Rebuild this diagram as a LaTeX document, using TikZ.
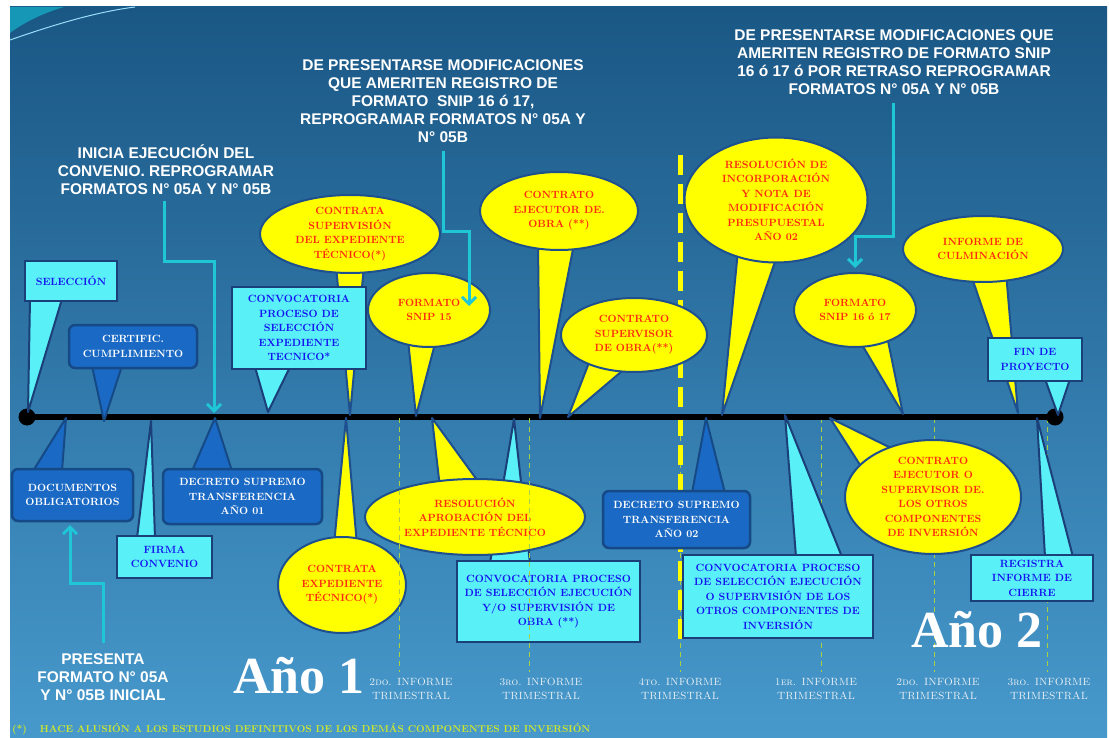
\documentclass[tikz,border=0pt]{standalone}
\usepackage{fontspec}
\newfontfamily\hdrfont{Liberation Sans}
\newfontfamily\anofont{Liberation Serif}
\usetikzlibrary{shapes.geometric,arrows.meta,calc}
\definecolor{bgtop}{HTML}{1A5785}
\definecolor{bgbot}{HTML}{4799CC}
\definecolor{cyanbox}{HTML}{5AF0F8}
\definecolor{navyedge}{HTML}{1B3F78}
\definecolor{darkbox}{HTML}{1A69C4}
\definecolor{darkedge}{HTML}{164A86}
\definecolor{yel}{HTML}{FFFF00}
\definecolor{yeledge}{HTML}{1E4F8F}
\definecolor{redtxt}{HTML}{FF2A10}
\definecolor{bluetxt}{HTML}{1414F0}
\definecolor{tealarr}{HTML}{1EC6D6}
\definecolor{gridline}{HTML}{A8D040}
\definecolor{foot}{HTML}{CCE630}
\definecolor{lbl}{HTML}{EEF2F6}
\definecolor{swoosh}{HTML}{1597B5}
\tikzset{
 cfont/.style={font=\fontsize{10.5}{14.5}\selectfont\bfseries, align=center},
 cybox/.style={cfont, rectangle, fill=cyanbox, draw=navyedge, line width=2.5pt, text=bluetxt, inner sep=2pt},
 cyptr/.style={fill=cyanbox, draw=navyedge, line width=2pt, line join=round},
 dkbox/.style={cfont, rectangle, rounded corners=6pt, fill=darkbox, draw=darkedge, line width=2.5pt, text=white, inner sep=2pt},
 dkptr/.style={fill=darkbox, draw=darkedge, line width=2pt, line join=round},
 yell/.style={cfont, ellipse, fill=yel, draw=yeledge, line width=2pt, text=redtxt, inner sep=0pt},
 yeptr/.style={fill=yel, draw=yeledge, line width=2pt, line join=round},
 hdr/.style={font=\hdrfont\bfseries\fontsize{15.5}{18}\selectfont, text=white, align=center, inner sep=0pt},
 tarrow/.style={draw=tealarr, line width=3pt, -{Straight Barb[length=7pt,width=14pt]}},
 gridl/.style={draw=gridline, line width=1pt, dash pattern=on 5pt off 4pt},
 ydash/.style={draw=yel, line width=5pt, dash pattern=on 20pt off 9pt},
 lblst/.style={font=\fontsize{10.5}{14}\selectfont\scshape, text=lbl, align=center, inner sep=0pt},
 anost/.style={font=\anofont\bfseries\fontsize{52}{52}\selectfont, text=white, inner sep=0pt, anchor=base west},
}
\begin{document}
\begin{tikzpicture}[x=1pt,y=-1pt]
\useasboundingbox (0,0) rectangle (1109,738);
\fill[white] (0,0) rectangle (1109,738);
\shade[top color=bgtop, bottom color=bgbot] (10,7) rectangle (1107,738);
\fill[swoosh] (10,7) -- (64,7) .. controls (40,14) and (22,24) .. (10,33) -- cycle;
\draw[white!60!cyan, line width=1pt] (10,40) .. controls (50,26) and (95,12) .. (135,7);

% grid lines (behind)
\draw[gridl] (680,418) -- (680,672);
\draw[gridl] (821,418) -- (821,672);
\draw[gridl] (934,418) -- (934,672);
\draw[gridl] (1047,418) -- (1047,672);
\draw[ydash] (680,155) -- (680,640);

% timeline
\coordinate (tl0) at (27,417);
\coordinate (tl1) at (1055,417);
\draw[line width=6.5pt] (tl0) -- (tl1);
\fill (tl0) circle (8.5);
\fill (tl1) circle (8.5);

% ---- above the timeline
\draw[cyptr] (30,299) -- (28,412) -- (62,299) -- cycle;
\node[cybox, minimum width=92pt, minimum height=40pt] (sel) at (71,281) {SELECCIÓN};

\draw[dkptr] (92,366) -- (104,421) -- (122,366) -- cycle;
\node[dkbox, minimum width=128pt, minimum height=43pt] (cert) at (133,346.5) {CERTIFIC.\\CUMPLIMIENTO};

\draw[yeptr] (336,266) -- (350,415) -- (364,266) -- cycle;
\node[yell, minimum width=180pt, minimum height=78pt] (csup) at (350,234) {CONTRATA\\SUPERVISIÓN\\DEL EXPEDIENTE\\TÉCNICO(*)};

\draw[cyptr] (255,367) -- (268,412) -- (290,367) -- cycle;
\node[cybox, minimum width=134pt, minimum height=82pt] (cexp) at (299,328) {CONVOCATORIA\\PROCESO DE\\SELECCIÓN\\EXPEDIENTE\\TECNICO*};

\draw[yeptr] (408,340) -- (416,416) -- (436,340) -- cycle;
\node[yell, minimum width=122pt, minimum height=74pt] (f15) at (429,310) {FORMATO\\SNIP 15};

\draw[yeptr] (538,244) -- (540,418) -- (574,244) -- cycle;
\node[yell, minimum width=158pt, minimum height=78pt] (cejo) at (559,211) {CONTRATO\\EJECUTOR DE.\\OBRA (**)};

\draw[yeptr] (590,360) -- (568,417) -- (628,366) -- cycle;
\node[yell, minimum width=146pt, minimum height=74pt] (csob) at (634,335) {CONTRATO\\SUPERVISOR\\DE OBRA(**)};

\draw[yeptr] (738,250) -- (722,415) -- (777,256) -- cycle;
\node[yell, minimum width=183pt, minimum height=125pt] (rinc) at (776,200) {RESOLUCIÓN DE\\INCORPORACIÓN\\Y NOTA DE\\MODIFICACIÓN\\PRESUPUESTAL\\AÑO 02};

\draw[yeptr] (858,338) -- (903,414) -- (887,336) -- cycle;
\node[yell, minimum width=122pt, minimum height=74pt] (f1617) at (855,310) {FORMATO\\SNIP 16 ó 17};

\draw[yeptr] (970,272) -- (1018,413) -- (1006,272) -- cycle;
\node[yell, minimum width=160pt, minimum height=66pt] (icul) at (983,249) {INFORME DE\\CULMINACIÓN};

\draw[cyptr] (1045,379) -- (1058,415) -- (1070,379) -- cycle;
\node[cybox, minimum width=94pt, minimum height=43pt] (fin) at (1035,359.5) {FIN DE\\PROYECTO};

% ---- below the timeline
\draw[dkptr] (33,471) -- (66,418) -- (62,471) -- cycle;
\node[dkbox, minimum width=121pt, minimum height=52pt] (docs) at (72.5,495) {DOCUMENTOS\\OBLIGATORIOS};

\draw[cyptr] (137,538) -- (151,421) -- (155,538) -- cycle;
\node[cybox, minimum width=95pt, minimum height=42pt] (firma) at (164.5,557) {FIRMA\\CONVENIO};

\draw[dkptr] (192,471) -- (215,418) -- (232,471) -- cycle;
\node[dkbox, minimum width=159pt, minimum height=55pt] (dec1) at (242.5,496.5) {DECRETO SUPREMO\\TRANSFERENCIA\\AÑO 01};

\draw[yeptr] (334,545) -- (346,418) -- (357,545) -- cycle;
\node[yell, minimum width=128pt, minimum height=96pt] (cexpt) at (342,585) {CONTRATA\\EXPEDIENTE\\TÉCNICO(*)};

\draw[cyptr] (490,563) -- (514,419) -- (530,563) -- cycle;
\node[cybox, minimum width=183pt, minimum height=81pt] (convobra) at (548.5,601.5) {CONVOCATORIA PROCESO\\DE SELECCIÓN EJECUCIÓN\\Y/O SUPERVISIÓN DE\\OBRA (**)};

\draw[yeptr] (440,488) -- (432,418) -- (480,484) -- cycle;
\node[yell, minimum width=220pt, minimum height=76pt] (raprob) at (475,517) {RESOLUCIÓN\\APROBACIÓN DEL\\EXPEDIENTE TÉCNICO};

\draw[dkptr] (692,493) -- (706,418) -- (725,493) -- cycle;
\node[dkbox, minimum width=147pt, minimum height=57pt] (dec2) at (676.5,519.5) {DECRETO SUPREMO\\TRANSFERENCIA\\AÑO 02};

\draw[cyptr] (796,557) -- (785,415) -- (842,557) -- cycle;
\node[cybox, minimum width=190pt, minimum height=83pt] (convotros) at (778,596.5) {CONVOCATORIA PROCESO\\DE SELECCIÓN EJECUCIÓN\\O SUPERVISIÓN DE LOS\\OTROS COMPONENTES DE\\INVERSIÓN};

\draw[yeptr] (862,468) -- (830,418) -- (895,450) -- cycle;
\node[yell, minimum width=176pt, minimum height=114pt] (ceos) at (933,497) {CONTRATO\\EJECUTOR O\\SUPERVISOR DE.\\LOS OTROS\\COMPONENTES\\DE INVERSIÓN};

\draw[cyptr] (1045,557) -- (1037,418) -- (1073,557) -- cycle;
\node[cybox, minimum width=122pt, minimum height=46pt] (reg) at (1032,578) {REGISTRA\\INFORME DE\\CIERRE};

% grid lines in front
\draw[gridl] (399,418) -- (399,672);
\draw[gridl] (529,418) -- (529,672);

% headers
\node[hdr] (hA) at (166,170) {INICIA EJECUCIÓN DEL\\CONVENIO. REPROGRAMAR\\FORMATOS N° 05A Y N° 05B};
\node[hdr] (hB) at (443,101) {DE PRESENTARSE MODIFICACIONES\\QUE AMERITEN REGISTRO DE\\FORMATO\ \ SNIP 16 ó 17,\\REPROGRAMAR FORMATOS N° 05A Y\\N° 05B};
\node[hdr] (hC) at (894,62) {DE PRESENTARSE MODIFICACIONES QUE\\AMERITEN REGISTRO DE FORMATO SNIP\\16 ó 17 ó POR RETRASO REPROGRAMAR\\FORMATOS N° 05A Y N° 05B};
\node[hdr] (hD) at (103,677) {PRESENTA\\FORMATO N° 05A\\Y N° 05B INICIAL};

% arrows
\coordinate (aT) at (214,413);
\draw[tarrow] ([yshift=-6pt,xshift=-2pt]hA.south) |- ([yshift=151pt]aT) -- (aT);
\coordinate (bT) at (469,306);
\draw[tarrow] ([yshift=-8pt]hB.south) |- ([yshift=74pt]bT) -- (bT);
\coordinate (cT) at (855,268);
\draw[tarrow] ([yshift=-8pt,xshift=-1pt]hC.south) |- ([yshift=31pt]cT) -- (cT);
\coordinate (dT) at (70,525);
\draw[tarrow] ([yshift=10pt]hD.north) |- ([yshift=-58pt]dT) -- (dT);

% informe labels
\node[lblst] (i1) at (411,689) {2do. INFORME\\TRIMESTRAL};
\node[lblst] (i2) at (541,689) {3ro. INFORME\\TRIMESTRAL};
\node[lblst] (i3) at (680,689) {4to. INFORME\\TRIMESTRAL};
\node[lblst] (i4) at (816,689) {1er. INFORME\\TRIMESTRAL};
\node[lblst] (i5) at (938,689) {2do. INFORME\\TRIMESTRAL};
\node[lblst] (i6) at (1049,689) {3ro. INFORME\\TRIMESTRAL};

% years
\node[anost] (y1) at (233,693) {Año 1};
\node[anost] (y2) at (911,647) {Año 2};

% footer
\node[anchor=west, inner sep=0pt, text=foot, font=\fontsize{10}{11}\selectfont\bfseries] (foot) at (12,729) {(*)\hspace{13pt}HACE ALUSIÓN A LOS ESTUDIOS DEFINITIVOS DE LOS DEMÁS COMPONENTES DE INVERSIÓN};
\end{tikzpicture}
\end{document}
